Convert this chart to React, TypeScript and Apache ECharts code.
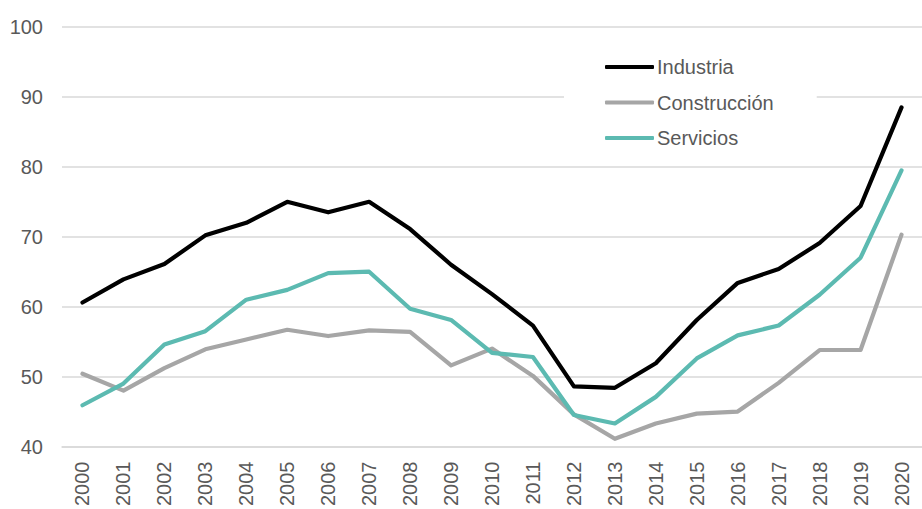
import React, { useEffect, useRef } from "react";
import * as echarts from "echarts";

const years = ["2000","2001","2002","2003","2004","2005","2006","2007","2008","2009","2010","2011","2012","2013","2014","2015","2016","2017","2018","2019","2020"];
const industria = [60.6,63.9,66.1,70.2,72.0,75.0,73.5,75.0,71.1,66.0,61.8,57.3,48.6,48.4,51.9,58.1,63.4,65.4,69.1,74.4,88.5];
const construccion = [50.4,48.0,51.2,53.9,55.3,56.7,55.8,56.6,56.4,51.6,54.0,50.1,44.6,41.1,43.3,44.7,45.0,49.1,53.8,53.8,70.3];
const servicios = [45.9,49.0,54.6,56.5,61.0,62.4,64.8,65.0,59.7,58.1,53.4,52.8,44.5,43.3,47.1,52.6,55.9,57.3,61.7,67.0,79.5];
const yTicks = { min: 40, max: 100, interval: 10 };

const FONT = "'Liberation Sans', Arial, sans-serif";
const TXT = "#595959";

export default function App() {
  const ref = useRef<HTMLDivElement>(null);
  useEffect(() => {
    if (!ref.current) return;
    const chart = echarts.init(ref.current, undefined, { renderer: "svg" });
    const mk = (name: string, data: number[], color: string) => ({
      name,
      type: "line",
      data,
      symbol: "none",
      z: 3,
      lineStyle: { color, width: 4.2, cap: "round", join: "round" },
      itemStyle: { color },
    });
    chart.setOption({
      animation: false,
      backgroundColor: "#ffffff",
      textStyle: { fontFamily: FONT },
      grid: { left: 62, right: -9.4, top: 27, bottom: 62, containLabel: false },
      xAxis: {
        type: "category",
        data: years,
        boundaryGap: true,
        axisLine: { show: true, lineStyle: { color: "#d9d9d9", width: 1.5 } },
        axisTick: { show: false },
        axisLabel: { rotate: 90, margin: 15, fontSize: 20, color: TXT, fontFamily: FONT, interval: 0 },
        splitLine: { show: false },
      },
      yAxis: {
        type: "value",
        min: yTicks.min,
        max: yTicks.max,
        interval: yTicks.interval,
        axisLine: { show: false },
        axisTick: { show: false },
        axisLabel: { margin: 19, fontSize: 20, color: TXT, fontFamily: FONT },
        splitLine: { lineStyle: { color: "#d9d9d9", width: 1.5 } },
      },
      legend: {
        orient: "vertical",
        left: 564,
        top: 46,
        padding: [11, 43, 11, 41],
        backgroundColor: "#ffffff",
        itemWidth: 49,
        itemHeight: 4,
        itemGap: 15.5,
        icon: "roundRect",
        z: 10,
        textStyle: { fontSize: 20, color: TXT, fontFamily: FONT, lineHeight: 20, padding: [0, 0, 0, -2] },
        data: ["Industria", "Construcción", "Servicios"],
      },
      series: [
        mk("Industria", industria, "#000000"),
        mk("Construcción", construccion, "#a6a6a6"),
        mk("Servicios", servicios, "#5cbab1"),
      ],
    });
    return () => chart.dispose();
  }, []);
  return <div ref={ref} style={{ width: 922, height: 509, position: "fixed", left: 0, top: 0 }} />;
}
